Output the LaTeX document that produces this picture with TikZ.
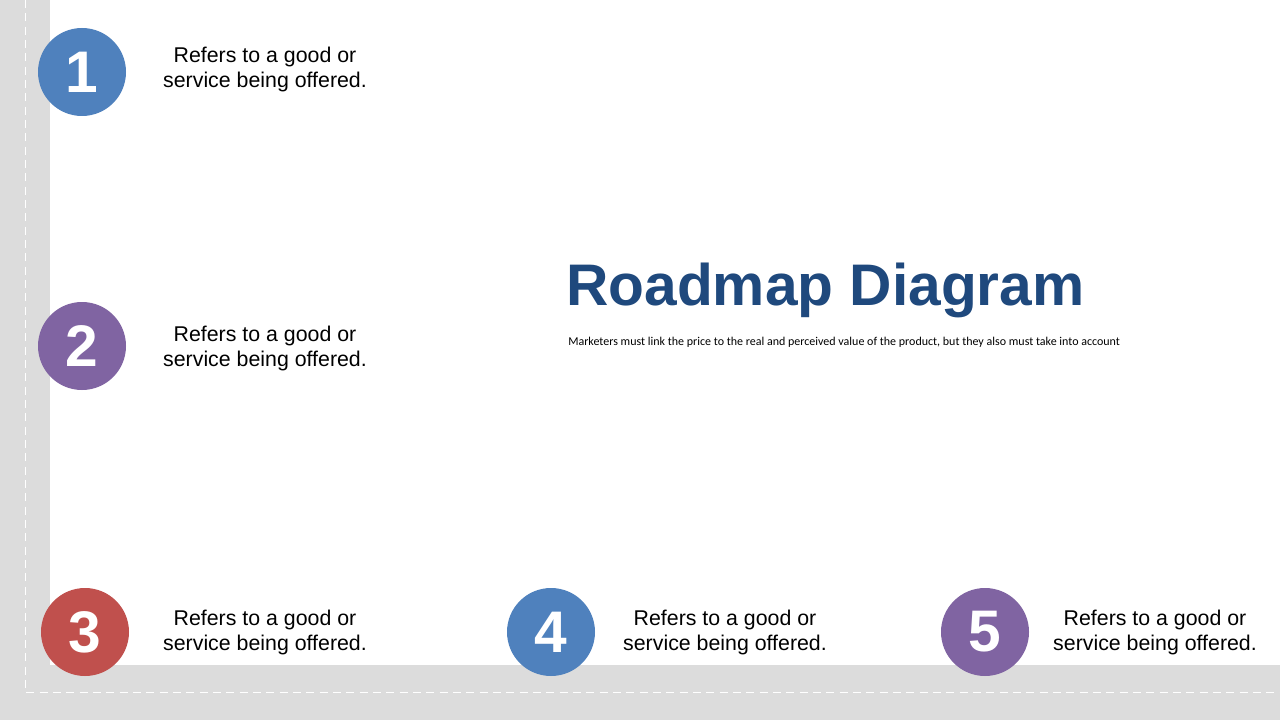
\documentclass[tikz,border=0pt]{standalone}
\usepackage{fontspec}
\setmainfont{Liberation Sans}
\newfontfamily\subfont{Carlito}
\definecolor{roadgray}{HTML}{DCDCDC}
\definecolor{cblue}{HTML}{4F81BD}
\definecolor{cpurple}{HTML}{8064A2}
\definecolor{cred}{HTML}{C0504D}
\definecolor{titleblue}{HTML}{1F497D}
\tikzset{
  numcirc/.style={circle, minimum size=88*0.75pt, inner sep=0pt, text=white,
    font=\fontsize{44}{44}\selectfont\bfseries},
  desc/.style={align=center, inner sep=0pt, text=black,
    font=\fontsize{16}{18.75}\selectfont},
  lane/.style={white, dashed, dash pattern=on 6pt off 4pt, line width=0.75pt}
}
\begin{document}
\begin{tikzpicture}[x=0.75pt,y=-0.75pt]
\useasboundingbox (0,0) rectangle (1280,720);
\fill[white] (0,0) rectangle (1280,720);
% road
\fill[roadgray] (0,0) rectangle (50,720);
\fill[roadgray] (0,665) rectangle (1280,720);
\coordinate (l1) at (25,0);
\coordinate (l2) at (25,692);
\coordinate (l3) at (1280,692);
\draw[lane] (l1) -- (l2) -- (l3);
% circles
\node[numcirc, fill=cblue] (c1) at (82,72) {1};
\node[numcirc, fill=cpurple] (c2) at (82,346) {2};
\node[numcirc, fill=cred] (c3) at (85,632) {3};
\node[numcirc, fill=cblue] (c4) at (551,632) {4};
\node[numcirc, fill=cpurple] (c5) at (985,632) {5};
% texts
\node[desc] (t1) at (265,69) {Refers to a good or\\service being offered.};
\node[desc] (t2) at (265,348) {Refers to a good or\\service being offered.};
\node[desc] (t3) at (265,632) {Refers to a good or\\service being offered.};
\node[desc] (t4) at (725,632) {Refers to a good or\\service being offered.};
\node[desc] (t5) at (1155,632) {Refers to a good or\\service being offered.};
% title
\node[anchor=west, inner sep=0pt, text=titleblue, font=\fontsize{44}{44}\selectfont\bfseries] (title) at (566,290) {Roadmap Diagram};
\node[anchor=west, inner sep=0pt, text=black, font=\subfont\fontsize{9}{10}\selectfont] (sub) at (568,342) {Marketers must link the price to the real and perceived value of the product, but they also must take into account};
\end{tikzpicture}
\end{document}
